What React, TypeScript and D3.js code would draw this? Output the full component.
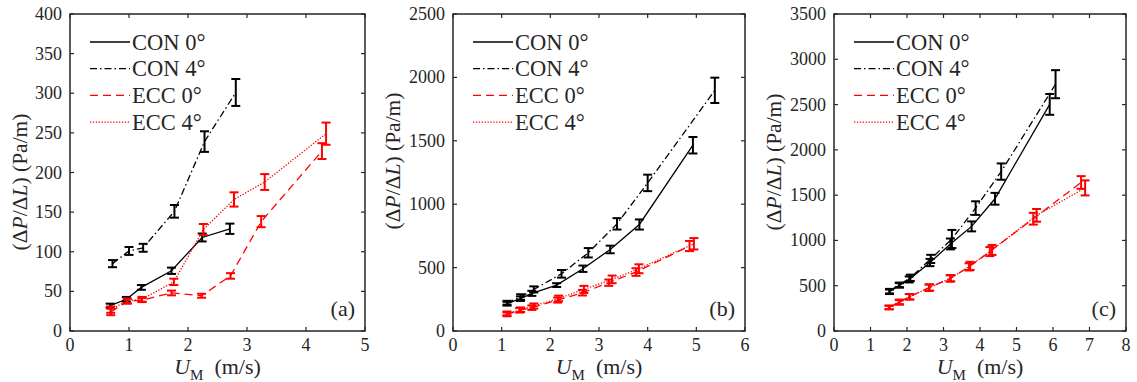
import React from 'react';
import * as d3 from 'd3';

// ---------- Panel (a) ----------
const conA0X = [0.68, 0.955, 1.21, 1.72, 2.24, 2.71];
const conA0Y = [32, 40, 55, 76, 118, 129];
const conA0E = [2.5, 3, 3, 4, 5, 6.5];
const conA4X = [0.72, 1.0, 1.24, 1.77, 2.28, 2.81];
const conA4Y = [85, 101, 105, 151, 239, 301];
const conA4E = [4.5, 5, 5, 8, 13, 17];
const eccA0X = [0.69, 0.97, 1.22, 1.72, 2.23, 2.72, 3.24, 4.27];
const eccA0Y = [24, 37.5, 39, 48, 44.5, 69.5, 138, 227];
const eccA0E = [4, 3, 2.5, 3, 2.5, 3.5, 7, 10];
const eccA4X = [0.69, 0.97, 1.22, 1.76, 2.26, 2.78, 3.3, 4.34];
const eccA4Y = [27, 38, 40, 62, 128, 166, 188, 249];
const eccA4E = [4, 3, 3, 4, 7, 9, 10, 14];

// ---------- Panel (b) ----------
const conB0X = [1.11, 1.385, 1.62, 2.13, 2.67, 3.23, 3.83, 4.93];
const conB0Y = [215, 255, 297, 362, 491, 643, 840, 1465];
const conB0E = [15, 18, 20, 15, 25, 30, 40, 65];
const conB4X = [1.11, 1.39, 1.66, 2.23, 2.78, 3.37, 4.0, 5.38];
const conB4Y = [223, 268, 328, 451, 617, 845, 1168, 1898];
const conB4E = [15, 22, 24, 30, 37, 45, 65, 100];
const eccB0X = [1.11, 1.37, 1.62, 2.15, 2.66, 3.2, 3.76, 4.86];
const eccB0Y = [131, 163, 184, 244, 302, 381, 465, 670];
const eccB0E = [15, 18, 18, 20, 22, 25, 30, 40];
const eccB4X = [1.11, 1.39, 1.66, 2.17, 2.69, 3.27, 3.82, 4.95];
const eccB4Y = [139, 168, 197, 257, 328, 407, 491, 688];
const eccB4E = [15, 18, 20, 22, 28, 30, 35, 45];

// ---------- Panel (c) ----------
const conC0X = [1.52, 1.79, 2.06, 2.63, 3.19, 3.77, 4.41, 5.91];
const conC0Y = [433, 503, 569, 756, 961, 1155, 1460, 2502];
const conC0E = [25, 25, 33, 40, 60, 55, 65, 115];
const conC4X = [1.52, 1.79, 2.09, 2.65, 3.23, 3.88, 4.58, 6.07];
const conC4Y = [440, 510, 587, 796, 1016, 1357, 1760, 2725];
const conC4E = [25, 25, 35, 45, 100, 75, 90, 155];
const eccC0X = [1.5, 1.79, 2.06, 2.6, 3.18, 3.7, 4.27, 5.46, 6.77];
const eccC0Y = [260, 315, 378, 477, 580, 708, 877, 1240, 1640];
const eccC0E = [20, 25, 30, 35, 35, 40, 50, 65, 70];
const eccC4X = [1.52, 1.79, 2.08, 2.62, 3.2, 3.73, 4.33, 5.55, 6.88];
const eccC4Y = [260, 322, 378, 481, 583, 719, 895, 1277, 1580];
const eccC4E = [20, 25, 30, 35, 35, 45, 55, 70, 83];

const legendLabels = ['CON 0°', 'CON 4°', 'ECC 0°', 'ECC 4°'];
const panelLabels = ['(a)', '(b)', '(c)'];

const FONT = 'Liberation Serif, Times New Roman, DejaVu Serif, serif';
const AX = '#262626';
const styles = [
  { color: '#000000', dash: null as string | null },
  { color: '#000000', dash: '7,3,1.5,3' },
  { color: '#ff0000', dash: '8,5' },
  { color: '#ff0000', dash: '1.3,1.6' },
];

type S = { x: number[]; y: number[]; e: number[] };

type PanelProps = {
  left: number;
  right: number;
  xMax: number;
  yMax: number;
  yStep: number;
  series: S[];
  label: string;
  yLabelX: number;
  yLabelY: number;
};

const txt = (size: number): React.CSSProperties => ({ fontFamily: FONT, fontSize: size + 'px' });

function Panel({ left, right, xMax, yMax, yStep, series, label, yLabelX, yLabelY }: PanelProps) {
  const top = 14;
  const bottom = 331;
  const x = d3.scaleLinear().domain([0, xMax]).range([left, right]);
  const y = d3.scaleLinear().domain([0, yMax]).range([bottom, top]);
  const xt = d3.range(0, xMax + 1e-9, 1);
  const yt = d3.range(0, yMax + 1e-9, yStep);
  const line = d3
    .line<[number, number]>()
    .x((d) => x(d[0]))
    .y((d) => y(d[1]));
  const tl = 4;
  const cap = 4.5;
  return (
    <g>
      {series.map((s, i) => (
        <path
          key={'l' + i}
          d={line(s.x.map((v, k) => [v, s.y[k]] as [number, number])) || ''}
          fill="none"
          stroke={styles[i].color}
          strokeWidth={1.3}
          strokeDasharray={styles[i].dash || undefined}
        />
      ))}
      {series.map((s, i) => (
        <g key={'e' + i} stroke={styles[i].color} strokeWidth={2} fill="none">
          {s.x.map((v, k) => {
            const cx = x(v);
            const y1 = y(s.y[k] - s.e[k]);
            const y2 = y(s.y[k] + s.e[k]);
            return (
              <g key={k}>
                <line x1={cx} x2={cx} y1={y1} y2={y2} />
                <line x1={cx - cap} x2={cx + cap} y1={y1} y2={y1} />
                <line x1={cx - cap} x2={cx + cap} y1={y2} y2={y2} />
              </g>
            );
          })}
        </g>
      ))}
      <rect x={left} y={top} width={right - left} height={bottom - top} fill="none" stroke={AX} strokeWidth={1.5} />
      {xt.map((t) => (
        <g key={'xt' + t} stroke={AX} strokeWidth={1.2}>
          <line x1={x(t)} x2={x(t)} y1={bottom} y2={bottom - tl} />
          <line x1={x(t)} x2={x(t)} y1={top} y2={top + tl} />
        </g>
      ))}
      {yt.map((t) => (
        <g key={'yt' + t} stroke={AX} strokeWidth={1.2}>
          <line x1={left} x2={left + tl} y1={y(t)} y2={y(t)} />
          <line x1={right} x2={right - tl} y1={y(t)} y2={y(t)} />
        </g>
      ))}
      {xt.map((t) => (
        <text key={'xl' + t} x={x(t)} y={bottom + 20} textAnchor="middle" fill={AX} style={txt(18)}>
          {t}
        </text>
      ))}
      {yt.map((t) => (
        <text key={'yl' + t} x={left - 8} y={y(t) + 6} textAnchor="end" fill={AX} style={txt(18)}>
          {t}
        </text>
      ))}
      {legendLabels.map((lab, i) => {
        const ry = 42 + i * 26.7;
        return (
          <g key={'lg' + i}>
            <line
              x1={left + 20}
              x2={left + 60}
              y1={ry}
              y2={ry}
              stroke={styles[i].color}
              strokeWidth={1.3}
              strokeDasharray={styles[i].dash || undefined}
            />
            <text x={left + 62} y={ry + 7.5} fill={AX} style={txt(22.5)}>
              {lab}
            </text>
          </g>
        );
      })}
      <text x={right - 10} y={316} textAnchor="end" fill={AX} style={txt(22)}>
        {label}
      </text>
      <text x={(left + right) / 2} y={374} textAnchor="middle" fill={AX} style={txt(22)}>
        <tspan fontStyle="italic">U</tspan>
        <tspan style={{ fontSize: '15px' }} dy={6}>M</tspan>
        <tspan dy={-6}>{'\u00a0\u00a0(m/s)'}</tspan>
      </text>
      <text
        transform={`translate(${yLabelX},${yLabelY}) rotate(-90)`}
        textAnchor="middle"
        fill={AX}
        style={txt(21.5)}
      >
        (Δ<tspan fontStyle="italic">P</tspan>/Δ<tspan fontStyle="italic">L</tspan>) (Pa/m)
      </text>
    </g>
  );
}

export default function App() {
  const sa: S[] = [
    { x: conA0X, y: conA0Y, e: conA0E },
    { x: conA4X, y: conA4Y, e: conA4E },
    { x: eccA0X, y: eccA0Y, e: eccA0E },
    { x: eccA4X, y: eccA4Y, e: eccA4E },
  ];
  const sb: S[] = [
    { x: conB0X, y: conB0Y, e: conB0E },
    { x: conB4X, y: conB4Y, e: conB4E },
    { x: eccB0X, y: eccB0Y, e: eccB0E },
    { x: eccB4X, y: eccB4Y, e: eccB4E },
  ];
  const sc: S[] = [
    { x: conC0X, y: conC0Y, e: conC0E },
    { x: conC4X, y: conC4Y, e: conC4E },
    { x: eccC0X, y: eccC0Y, e: eccC0E },
    { x: eccC4X, y: eccC4Y, e: eccC4E },
  ];
  return (
    <svg width={1137} height={382} style={{ position: 'absolute', left: 0, top: 0, background: '#fff' }}>
      <Panel left={70} right={365} xMax={5} yMax={400} yStep={50} series={sa} label={panelLabels[0]} yLabelX={27} yLabelY={182} />
      <Panel left={453} right={745} xMax={6} yMax={2500} yStep={500} series={sb} label={panelLabels[1]} yLabelX={400} yLabelY={161} />
      <Panel left={834} right={1126} xMax={8} yMax={3500} yStep={500} series={sc} label={panelLabels[2]} yLabelX={781} yLabelY={162} />
    </svg>
  );
}
